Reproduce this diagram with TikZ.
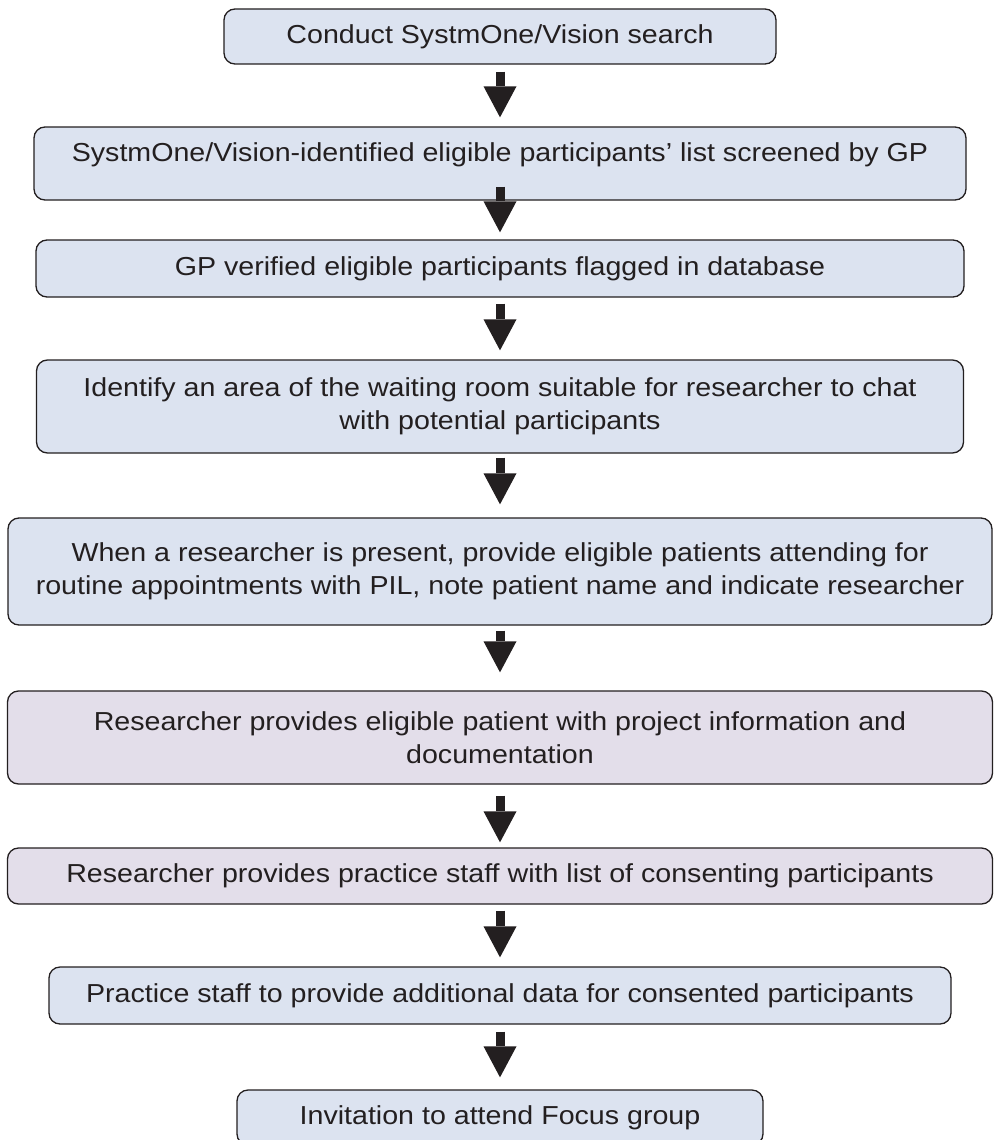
\documentclass[tikz,border=0pt]{standalone}
\usepackage{fontspec}
\setmainfont{Liberation Sans}[FakeStretch=1.1]
\usetikzlibrary{arrows.meta}
\definecolor{boxblue}{RGB}{220,227,240}
\definecolor{boxpurple}{RGB}{227,222,234}
\definecolor{ink}{RGB}{35,31,32}
\begin{document}
\begin{tikzpicture}[
  fc/.style={draw=ink, line width=1.3pt, rounded corners=11pt, inner sep=0pt},
  bluebox/.style={fc, fill=boxblue},
  purplebox/.style={fc, fill=boxpurple},
  txt/.style={font=\fontsize{26pt}{33pt}\selectfont, text=ink, align=center},
  flow/.style={draw=ink, line width=9pt, -{Triangle[width=33pt,length=31pt,line width=0pt]}}
]
\useasboundingbox (0,0) rectangle (995pt,-1140pt);

\node[bluebox, txt, minimum width=552pt, minimum height=55pt] (b1) at (500pt,-36.5pt) {Conduct SystmOne/Vision search};
\node[bluebox, minimum width=932pt, minimum height=73pt] (b2) at (500pt,-163.5pt) {};
\node[txt] (t2) at (500pt,-155pt) {SystmOne/Vision-identified eligible participants’ list screened by GP};
\node[bluebox, txt, minimum width=928pt, minimum height=57pt] (b3) at (500pt,-268.5pt) {GP verified eligible participants flagged in database};
\node[bluebox, txt, minimum width=927pt, minimum height=93pt] (b4) at (500pt,-406.5pt) {Identify an area of the waiting room suitable for researcher to chat\\with potential participants};
\node[bluebox, txt, minimum width=984pt, minimum height=107pt] (b5) at (500pt,-571.5pt) {When a researcher is present, provide eligible patients attending for\\routine appointments with PIL, note patient name and indicate researcher};
\node[purplebox, txt, minimum width=985pt, minimum height=93pt] (b6) at (500pt,-737.5pt) {Researcher provides eligible patient with project information and\\documentation};
\node[purplebox, txt, minimum width=985pt, minimum height=56pt] (b7) at (500pt,-876pt) {Researcher provides practice staff with list of consenting participants};
\node[bluebox, txt, minimum width=902pt, minimum height=57pt] (b8) at (500pt,-995.5pt) {Practice staff to provide additional data for consented participants};
\node[bluebox, txt, minimum width=526pt, minimum height=55pt] (b9) at (500pt,-1117.5pt) {Invitation to attend Focus group};

\draw[flow] ([yshift=-7pt]b1.south) -- ([yshift=9pt]b2.north);
\draw[flow] ([yshift=14pt]b2.south) -- ([yshift=7pt]b3.north);
\draw[flow] ([yshift=-6pt]b3.south) -- ([yshift=9pt]b4.north);
\draw[flow] ([yshift=-4pt]b4.south) -- ([yshift=13pt]b5.north);
\draw[flow] ([yshift=-5pt]b5.south) -- ([yshift=18pt]b6.north);
\draw[flow] ([yshift=-11pt]b6.south) -- ([yshift=5pt]b7.north);
\draw[flow] ([yshift=-6pt]b7.south) -- ([yshift=9pt]b8.north);
\draw[flow] ([yshift=-7pt]b8.south) -- ([yshift=12pt]b9.north);
\end{tikzpicture}
\end{document}
